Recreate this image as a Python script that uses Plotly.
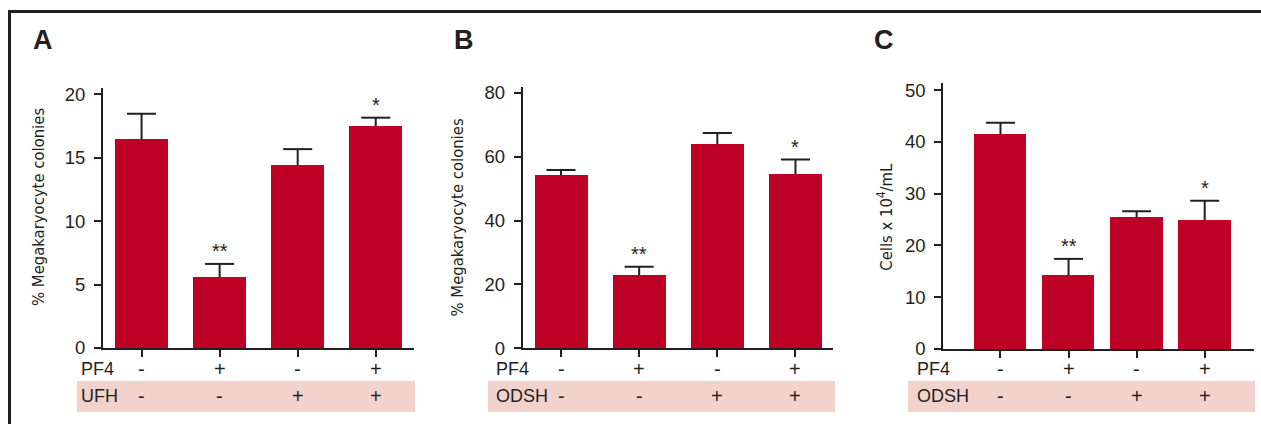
import plotly.graph_objects as go

W, H = 1261, 424

# ---------------- data ----------------
conditions = ["1", "2", "3", "4"]
pf4_signs = ["-", "+", "-", "+"]
heparin_signs = ["-", "-", "+", "+"]

a_means = [16.45, 5.58, 14.42, 17.47]
a_errs = [2.02, 1.05, 1.26, 0.69]
a_stars = ["", "**", "", "*"]

b_means = [54.2, 22.8, 63.9, 54.5]
b_errs = [1.6, 2.7, 3.5, 4.6]
b_stars = ["", "**", "", "*"]

c_means = [41.45, 14.2, 25.4, 24.85]
c_errs = [2.25, 3.2, 1.2, 3.75]
c_stars = ["", "**", "", "*"]

a_ticks = [0, 5, 10, 15, 20]
b_ticks = [0, 20, 40, 60, 80]
c_ticks = [0, 10, 20, 30, 40, 50]

# ---------------- style ----------------
BAR = "#BE0026"
BAND = "#F4D2CC"
INK = "#231F20"
FONT = "Liberation Sans, Arial, sans-serif"
NARROW = "DejaVu Sans Condensed, Liberation Sans Narrow, Arial Narrow, sans-serif"


def px(x):
    return x / W


def py(y):
    return 1 - y / H


panels = [
    dict(key="", means=a_means, errs=a_errs, stars=a_stars, ticks=a_ticks,
         xdom=(103, 414), ydom=(348, 88), xr=(-0.494, 3.49), yr=(0, 20.5),
         bw=0.68, cap=0.186, letter="A", lx=31, title="% Megakaryocyte colonies",
         tx=38, ty=207, row_lx=79, band=(77, 415), hep="UFH"),
    dict(key="2", means=b_means, errs=b_errs, stars=b_stars, ticks=b_ticks,
         xdom=(522.7, 833), ydom=(348.3, 87.3), xr=(-0.49, 3.48), yr=(0, 81.7),
         bw=0.675, cap=0.186, letter="B", lx=452, title="% Megakaryocyte colonies",
         tx=457, ty=217.5, row_lx=494, band=(488, 835), hep="ODSH"),
    dict(key="3", means=c_means, errs=c_errs, stars=c_stars, ticks=c_ticks,
         xdom=(943.3, 1254), ydom=(349, 83.3), xr=(-0.84, 3.724), yr=(0, 51.3),
         bw=0.77, cap=0.213, letter="C", lx=872, title="Cells x 10<sup>4</sup>/mL",
         tx=885, ty=216.7, row_lx=915, band=(908, 1255), hep="ODSH"),
]

fig = go.Figure()
annotations = []
shapes = []
xs = list(range(len(conditions)))

for p in panels:
    xa = "x" + p["key"]
    ya = "y" + p["key"]
    fig.add_trace(go.Bar(
        x=xs, y=p["means"], width=p["bw"], marker=dict(color=BAR, line=dict(width=0)),
        xaxis=xa, yaxis=ya, showlegend=False, hoverinfo="y"))
    # upward-only error bars (stem + cap)
    ex, ey = [], []
    for xi, m, e in zip(xs, p["means"], p["errs"]):
        ex += [xi, xi, None, xi - p["cap"], xi + p["cap"], None]
        ey += [m, m + e, None, m + e, m + e, None]
    fig.add_trace(go.Scatter(
        x=ex, y=ey, mode="lines", line=dict(color=INK, width=2),
        xaxis=xa, yaxis=ya, showlegend=False, hoverinfo="skip"))
    # significance stars
    for xi, m, e, s in zip(xs, p["means"], p["errs"], p["stars"]):
        if s:
            annotations.append(dict(
                x=xi, y=m + e, xref=xa, yref=ya, text=s, showarrow=False,
                yanchor="bottom", xanchor="center", yshift=0,
                font=dict(family=FONT, size=20, color=INK)))
    axkey_x = "xaxis" + p["key"]
    axkey_y = "yaxis" + p["key"]
    fig.layout[axkey_x] = dict(
        domain=[px(p["xdom"][0]), px(p["xdom"][1])], range=list(p["xr"]),
        anchor=ya, showgrid=False, zeroline=False, showline=True,
        linecolor=INK, linewidth=2, ticks="outside", ticklen=7, tickwidth=2,
        tickcolor=INK, tickvals=xs, showticklabels=False, fixedrange=True,
        automargin=False)
    fig.layout[axkey_y] = dict(
        domain=[py(p["ydom"][0]), py(p["ydom"][1])], range=list(p["yr"]),
        anchor=xa, showgrid=False, zeroline=False, showline=True,
        linecolor=INK, linewidth=2, ticks="outside", ticklen=7, tickwidth=2,
        tickcolor=INK, tickvals=p["ticks"], ticklabelstandoff=5,
        tickfont=dict(family=FONT, size=18.5, color=INK), fixedrange=True,
        automargin=False)
    # panel letter
    annotations.append(dict(
        x=px(p["lx"]), y=py(40), xref="paper", yref="paper", text="<b>%s</b>" % p["letter"],
        showarrow=False, xanchor="left", yanchor="middle",
        font=dict(family=FONT, size=27, color=INK)))
    # y title
    annotations.append(dict(
        x=px(p["tx"]), y=py(p["ty"]), xref="paper", yref="paper", text=p["title"],
        textangle=-90, showarrow=False, xanchor="center", yanchor="middle",
        font=dict(family=NARROW, size=16.5, color=INK)))
    # pink band
    shapes.append(dict(type="rect", xref="paper", yref="paper",
                       x0=px(p["band"][0]), x1=px(p["band"][1]),
                       y0=py(412), y1=py(381), fillcolor=BAND, line=dict(width=0),
                       layer="below"))
    # row labels
    annotations.append(dict(
        x=px(p["row_lx"]), y=py(369), xref="paper", yref="paper", text="PF4",
        showarrow=False, xanchor="left", yanchor="middle",
        font=dict(family=FONT, size=18, color=INK)))
    annotations.append(dict(
        x=px(p["row_lx"]), y=py(396), xref="paper", yref="paper", text=p["hep"],
        showarrow=False, xanchor="left", yanchor="middle",
        font=dict(family=FONT, size=18, color=INK)))
    for xi, s1, s2 in zip(xs, pf4_signs, heparin_signs):
        for sgn, yy in ((s1, 369), (s2, 396)):
            annotations.append(dict(
                x=xi, y=py(yy), xref=xa, yref="paper", text=sgn, showarrow=False,
                xanchor="center", yanchor="middle",
                font=dict(family=FONT, size=20, color=INK)))

# frame lines (top and left)
shapes.append(dict(type="line", xref="paper", yref="paper", x0=px(8), x1=1.0,
                   y0=py(11.5), y1=py(11.5), line=dict(color=INK, width=3)))
shapes.append(dict(type="line", xref="paper", yref="paper", x0=px(9.5), x1=px(9.5),
                   y0=py(10), y1=0, line=dict(color=INK, width=3)))

fig.update_layout(
    width=W, height=H,
    margin=dict(l=0, r=0, t=0, b=0, pad=0, autoexpand=False),
    paper_bgcolor="white", plot_bgcolor="rgba(0,0,0,0)",
    annotations=annotations, shapes=shapes, bargap=0,
    font=dict(family=FONT, color=INK),
)

css_fix = (
    "var s=document.createElement('style');"
    "s.innerHTML='html,body{margin:0!important;padding:0!important;overflow:hidden!important;"
    "height:424px!important;} body>div{height:424px;overflow:hidden;line-height:0;font-size:0;}"
    " .svg-container{display:block!important;}';"
    "document.head.appendChild(s);"
)

fig.write_html("out.html", config={"displayModeBar": False}, post_script=css_fix)
